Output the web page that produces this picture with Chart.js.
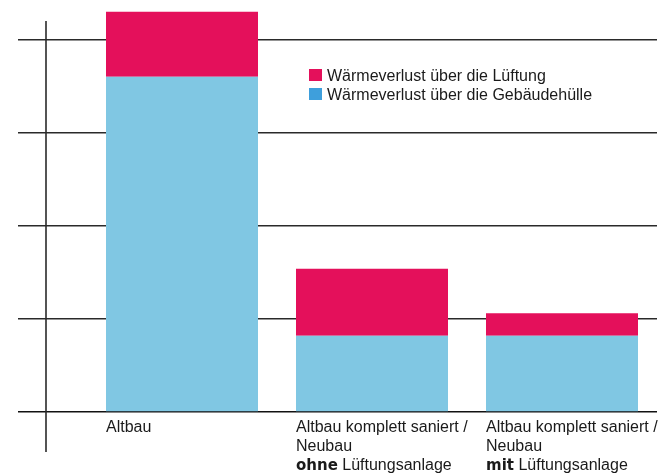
<!DOCTYPE html>
<html>
<head>
<meta charset="utf-8">
<script src="https://cdn.jsdelivr.net/npm/chart.js@4/dist/chart.umd.min.js"></script>
<style>
  body { margin: 0; background: #fff; }
  #wrap { width: 658px; height: 475px; }
</style>
</head>
<body>
<div id="wrap"><canvas id="heatLoss" width="658" height="475"></canvas></div>
<script>
// x-axis categories, one line per entry, *word* = bold
const categories = [
  ['Altbau'],
  ['Altbau komplett saniert /', 'Neubau', '*ohne* Lüftungsanlage'],
  ['Altbau komplett saniert /', 'Neubau', '*mit* Lüftungsanlage']
];
const seriesNames = ['Wärmeverlust über die Lüftung', 'Wärmeverlust über die Gebäudehülle'];
// values (one grid step = 50)
const envelopeLoss = [180, 41, 41];
const ventilationLoss = [35, 36, 12];
const yTicks = [0, 50, 100, 150, 200];

const PINK = '#e4105b';
const BLUE = '#80c7e3';
const LEGEND_BLUE = '#3e9fdc';
const LINE = '#2a2a2a';
const FONT = '"Liberation Sans", Arial, sans-serif';
const BOLD_FONT = 'bold 15px "DejaVu Sans", sans-serif';

Chart.defaults.font.family = FONT;

// category labels, legend and the vertical axis line
const textPlugin = {
  id: 'texts',
  beforeDatasetsDraw(chart) {
    const ctx = chart.ctx;
    const area = chart.chartArea;
    const x = area.left - 41;
    ctx.save();
    ctx.strokeStyle = LINE;
    ctx.lineWidth = 1.6;
    ctx.beginPath();
    ctx.moveTo(x, area.top);
    ctx.lineTo(x, area.bottom + 40);
    ctx.stroke();
    ctx.restore();
  },
  afterDraw(chart) {
    const ctx = chart.ctx;
    const area = chart.chartArea;
    const meta = chart.getDatasetMeta(0);
    ctx.save();
    ctx.fillStyle = '#1a1a1a';
    ctx.textBaseline = 'alphabetic';
    ctx.textAlign = 'left';
    categories.forEach((lines, i) => {
      const bar = meta.data[i];
      const x0 = bar.x - bar.width / 2;
      lines.forEach((line, j) => {
        const y = area.bottom + 20 + j * 19;
        let x = x0;
        line.split(/(\*[^*]+\*)/).filter(s => s).forEach(part => {
          const bold = part.startsWith('*');
          const txt = bold ? part.slice(1, -1) : part;
          ctx.font = bold ? BOLD_FONT : '16px ' + FONT;
          ctx.fillText(txt, x, y);
          x += ctx.measureText(txt).width;
        });
      });
    });

    // legend
    const legendColors = [PINK, LEGEND_BLUE];
    ctx.font = '16px ' + FONT;
    seriesNames.forEach((name, i) => {
      const y = 81 + i * 19;
      ctx.fillStyle = legendColors[i];
      ctx.fillRect(309, y - 12, 13, 12);
      ctx.fillStyle = '#1a1a1a';
      ctx.fillText(name, 327, y);
    });
    ctx.restore();
  }
};

new Chart(document.getElementById('heatLoss'), {
  type: 'bar',
  data: {
    labels: categories.map(c => c.join(' ').replace(/\*/g, '')),
    datasets: [
      {
        label: seriesNames[1],
        data: envelopeLoss,
        backgroundColor: BLUE,
        borderWidth: 0,
        clip: false
      },
      {
        label: seriesNames[0],
        data: ventilationLoss,
        backgroundColor: PINK,
        borderWidth: 0,
        clip: false
      }
    ]
  },
  options: {
    responsive: false,
    animation: false,
    categoryPercentage: 1,
    barPercentage: 0.8,
    layout: { padding: { left: 18, right: 1, top: 21, bottom: 23 } },
    plugins: {
      legend: { display: false },
      tooltip: { enabled: false }
    },
    scales: {
      x: {
        stacked: true,
        ticks: { display: false },
        border: { display: false },
        grid: { display: false, drawTicks: true, tickLength: 40 }
      },
      y: {
        stacked: true,
        min: 0,
        max: 210,
        afterBuildTicks: scale => { scale.ticks = yTicks.map(v => ({ value: v })); },
        ticks: { display: false },
        border: { display: false },
        grid: {
          color: c => c.tick && c.tick.value === 0 ? '#111' : LINE,
          lineWidth: 1.6,
          tickLength: 69
        }
      }
    }
  },
  plugins: [textPlugin]
});
</script>
</body>
</html>
